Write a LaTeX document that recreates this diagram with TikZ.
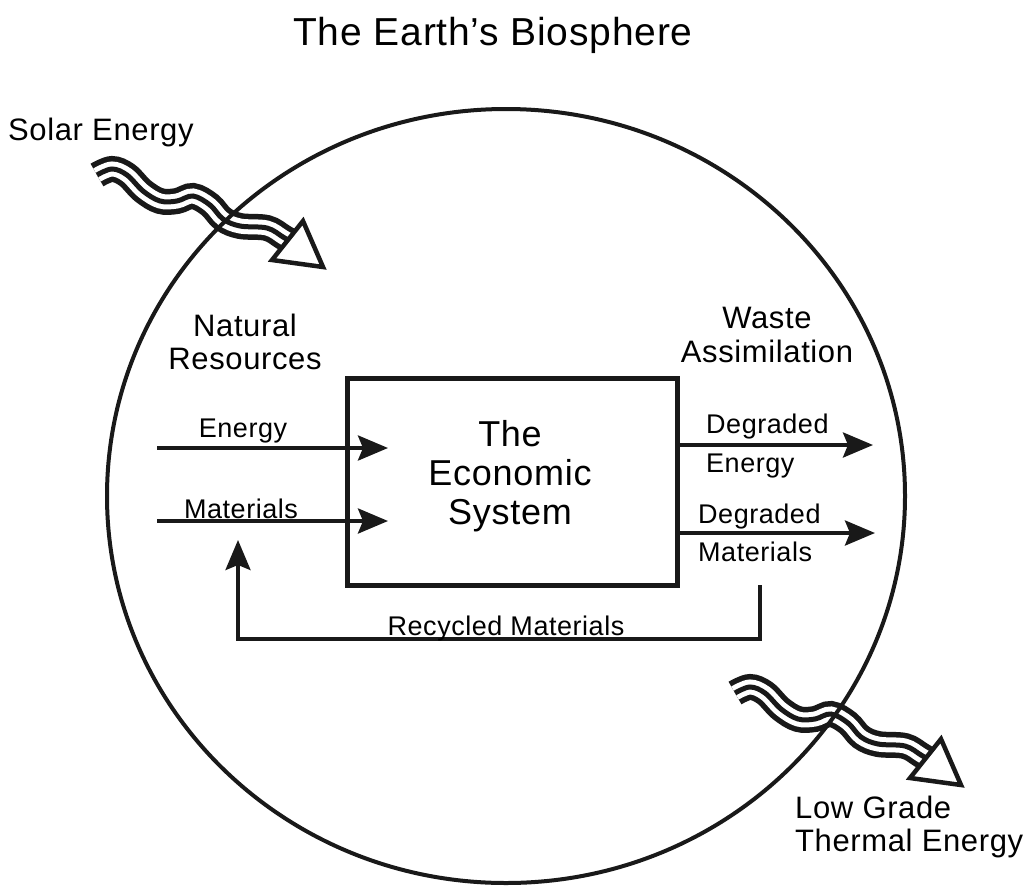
\documentclass[tikz,border=0pt]{standalone}
\usepackage{fontspec}
\setmainfont{Liberation Sans}[LetterSpace=2]
\usetikzlibrary{arrows.meta,shapes.geometric}

\begin{document}
\begin{tikzpicture}[x=1pt,y=-1pt]
	\tikzstyle{biosphere}=[ellipse, draw=black!90, line width=4pt, minimum width=798pt, minimum height=774pt, inner sep=0pt]
	\tikzstyle{ecobox}=[rectangle, draw=black!90, line width=5pt, minimum width=330pt, minimum height=207pt]
	\tikzstyle{flow}=[-{Stealth[length=30pt,width=25pt,inset=5pt]}, line width=4pt, draw=black!90]
	\tikzstyle{wave}=[draw=white, line width=15pt, preaction={draw=black!90, line width=26pt}, postaction={draw=black!90, line width=5pt}]
	\tikzstyle{head}=[draw=black!90, fill=white, line width=4.5pt, line join=miter]
	\tikzstyle{big}=[font=\fontsize{31}{33.5}\selectfont, inner sep=0pt]
	\tikzstyle{small}=[font=\fontsize{27}{30}\selectfont, inner sep=0pt]
	\useasboundingbox (0,0) rectangle (1024,894);
	% radiation in and out
	\draw[wave] plot[smooth, tension=0.6] coordinates {(97,175) (112,169) (127,175) (143,191) (160,201) (177,201) (193,196) (210,205) (223,219) (240,226) (267,228) (283,237) (293,243)};
	\draw[head] (272,260) -- (303,221) -- (323,267) -- cycle;
	\begin{scope}[shift={(638,518)}]
	  \draw[wave] plot[smooth, tension=0.6] coordinates {(97,175) (112,169) (127,175) (143,191) (160,201) (177,201) (193,196) (210,205) (223,219) (240,226) (267,228) (283,237) (293,243)};
	  \draw[head] (272,260) -- (303,221) -- (323,267) -- cycle;
	\end{scope}
	\node[biosphere] (earth) at (506,496) {};
	\node[font=\fontsize{39}{44}\selectfont, inner sep=0pt, anchor=base] (title) at (493,45) {The Earth's Biosphere};
	\node[big, anchor=base west] (solar) at (8,140) {Solar Energy};
	\node[big, align=left, anchor=west] (thermal) at (795,827) {Low Grade\\Thermal Energy};
	\node[big, align=center] (natres) at (245,342) {Natural\\Resources};
	\node[big, align=center] (waste) at (767,335) {Waste\\Assimilation};
	% the economy
	\node[ecobox] (econ) at (512,481.5) {};
	\node[font=\fontsize{36}{39}\selectfont, align=center, inner sep=0pt] (econtext) at (510,476) {The\\Economic\\System};
	\coordinate (ein) at (157,448);
	\coordinate (eend) at (388,448);
	\coordinate (min) at (157,521);
	\coordinate (mend) at (388,521);
	\coordinate (deend) at (873,445);
	\coordinate (dmend) at (875,533);
	\coordinate (recstart) at (760,585);
	\coordinate (recend) at (238,540);
	\draw[flow] (ein) -- (eend);
	\draw[flow] (min) -- (mend);
	\draw[flow] (econ.east |- deend) -- (deend);
	\draw[flow] (econ.east |- dmend) -- (dmend);
	\draw[flow, line width=3.5pt] (recstart) -- ++(0,54) -| (recend);
	\node[small, anchor=base] (energy) at (243,437) {Energy};
	\node[small, anchor=base] (materials) at (241,518) {Materials};
	\node[small, anchor=base west] (degE1) at (706,433) {Degraded};
	\node[small, anchor=base west] (degE2) at (706,472) {Energy};
	\node[small, anchor=base west] (degM1) at (698,523) {Degraded};
	\node[small, anchor=base west] (degM2) at (698,561) {Materials};
	\node[small, anchor=base] (recycled) at (506,635) {Recycled Materials};
\end{tikzpicture}
\end{document}
